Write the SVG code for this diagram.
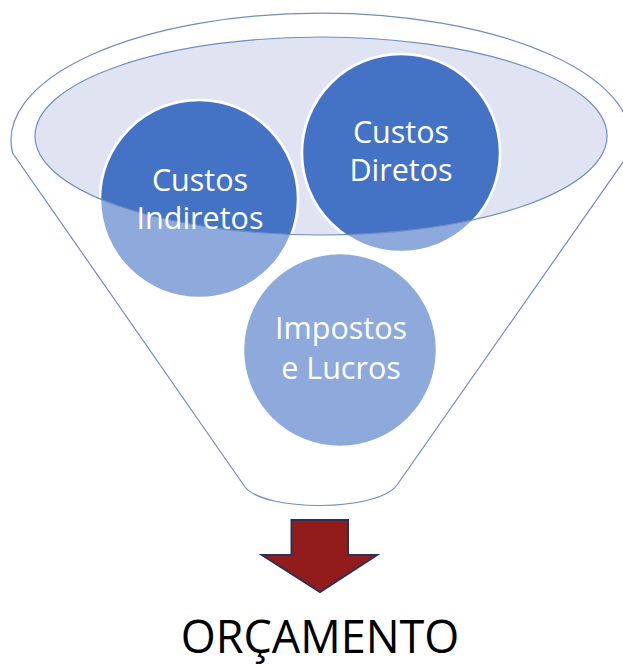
<svg xmlns="http://www.w3.org/2000/svg" width="623" height="666" viewBox="0 0 623 666">
  <style>
    .funnel { fill: none; stroke: #6F8DC3; stroke-width: 1.2; }
    .rim { fill: none; stroke: #6F8DC3; stroke-width: 1.2; }
    .light { fill: #8EA9DB; stroke: #FFFFFF; stroke-width: 2.5; }
    .dark { fill: #4472C4; stroke: #FFFFFF; stroke-width: 2.5; }
    .lbl { font-family: "Open Sans", "Noto Sans", sans-serif; font-size: 30.5px; fill: #FFFFFF; text-anchor: middle; }
    .title { font-family: "Open Sans", "Noto Sans", sans-serif; font-size: 45px; fill: #000000; text-anchor: middle; }
  </style>
  <defs>
    <clipPath id="rimClip">
      <ellipse cx="321" cy="136" rx="286" ry="99"/>
    </clipPath>
  </defs>
  <rect width="623" height="666" fill="#FFFFFF"/>

  <g id="funnel">
    <path class="funnel" d="M 12.6 153 A 310 127 0 1 1 629.4 153 L 397 485 C 377 512 265 512 245 487 Z"/>
    <ellipse cx="321" cy="136" rx="286" ry="99" fill="#E0E4F2"/>
  </g>

  <g id="node-indiretos">
    <circle class="light" cx="199" cy="199" r="99"/>
    <circle class="dark" cx="199" cy="199" r="99" clip-path="url(#rimClip)"/>
  </g>
  <g id="node-diretos">
    <circle class="light" cx="401" cy="153" r="99"/>
    <circle class="dark" cx="401" cy="153" r="99" clip-path="url(#rimClip)"/>
  </g>
  <g id="node-impostos">
    <circle class="light" cx="340" cy="350" r="97"/>
  </g>

  <g id="rim-outline">
    <ellipse class="rim" cx="321" cy="136" rx="286" ry="99"/>
  </g>

  <g id="labels">
    <text class="lbl" x="200" y="191">Custos</text>
    <text class="lbl" x="200" y="229">Indiretos</text>
    <text class="lbl" x="401" y="143">Custos</text>
    <text class="lbl" x="401" y="181">Diretos</text>
    <text class="lbl" x="341" y="339">Impostos</text>
    <text class="lbl" x="341" y="379">e Lucros</text>
  </g>

  <g id="connectors">
    <path d="M 291.5 520 L 348 520 L 348 555 L 377 555 L 320 592 L 262 555 L 291.5 555 Z" fill="#921B1B" stroke="#2C3157" stroke-width="2" stroke-linejoin="miter"/>
  </g>

  <g id="node-orcamento">
    <text class="title" x="320" y="653">ORÇAMENTO</text>
  </g>
</svg>
